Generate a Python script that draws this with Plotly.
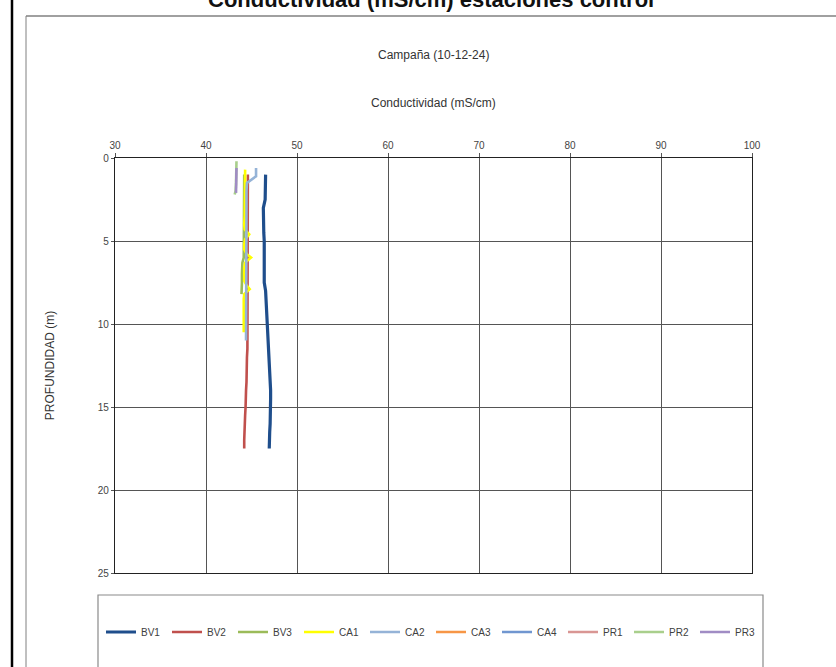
import plotly.graph_objects as go

# conductividad (mS/cm) por profundidad (m), campaña 10-12-24
bv1_prof = [1.0, 1.5, 2.0, 2.5, 3.0, 3.5, 4.0, 4.5, 5.0, 5.5, 6.0, 6.5, 7.0, 7.5, 8.0, 8.5,
            9.0, 9.5, 10.0, 10.5, 11.0, 11.5, 12.0, 12.5, 13.0, 13.5, 14.0, 14.5, 15.0,
            15.5, 16.0, 16.5, 17.0, 17.5]
bv1_cond = [46.55, 46.55, 46.55, 46.5, 46.3, 46.3, 46.3, 46.35, 46.4, 46.4, 46.4, 46.4,
            46.4, 46.4, 46.55, 46.6, 46.6, 46.65, 46.75, 46.8, 46.85, 46.9, 46.95, 47.0,
            47.05, 47.1, 47.1, 47.1, 47.1, 47.1, 47.05, 47.0, 46.95, 46.95]

bv2_prof = [1.0, 2.0, 3.0, 4.0, 5.0, 6.0, 7.0, 8.0, 9.0, 10.0, 10.5, 11.0, 11.5, 12.0,
            12.5, 13.0, 13.5, 14.0, 14.5, 15.0, 15.5, 16.0, 16.5, 17.0, 17.5]
bv2_cond = [44.6, 44.6, 44.6, 44.6, 44.6, 44.6, 44.6, 44.6, 44.6, 44.6, 44.6, 44.6, 44.55,
            44.5, 44.5, 44.5, 44.45, 44.4, 44.4, 44.35, 44.3, 44.25, 44.2, 44.2, 44.2]

bv3_prof = [1.0, 2.0, 3.0, 4.0, 5.0, 6.0, 6.3, 6.6, 7.0, 7.5, 8.0, 8.2]
bv3_cond = [44.2, 44.2, 44.2, 44.2, 44.15, 44.15, 44.0, 43.95, 43.95, 43.95, 43.95, 43.9]

ca1_prof = [0.7, 1.0, 1.5, 2.0, 2.5, 3.0, 3.5, 4.0, 4.3, 4.6, 4.9, 5.2, 5.5, 5.8, 6.0,
            6.3, 6.6, 7.0, 7.4, 7.7, 7.9, 8.2, 8.5, 9.0, 9.5, 10.0, 10.5]
ca1_cond = [44.3, 44.3, 44.3, 44.25, 44.25, 44.25, 44.25, 44.2, 44.25, 44.75, 44.3, 44.2,
            44.2, 44.5, 44.95, 44.3, 44.2, 44.2, 44.2, 44.5, 44.8, 44.2, 44.15, 44.15,
            44.15, 44.15, 44.15]

ca2_prof = [0.6, 1.1, 1.5, 2.0, 3.0, 4.0, 5.0, 6.0, 7.0, 8.0, 9.0, 10.0, 11.0]
ca2_cond = [45.5, 45.5, 44.5, 44.45, 44.45, 44.45, 44.4, 44.4, 44.4, 44.4, 44.4, 44.4, 44.4]

# estaciones sin datos visibles en esta campaña
ca3_prof = [None]
ca3_cond = [None]
ca4_prof = [None]
ca4_cond = [None]
pr1_prof = [None]
pr1_cond = [None]

pr2_prof = [0.2, 0.5, 1.0, 1.5, 2.0, 2.2]
pr2_cond = [43.35, 43.35, 43.3, 43.3, 43.25, 43.15]

pr3_prof = [0.6, 1.0, 1.5, 2.0, 2.1]
pr3_cond = [43.35, 43.35, 43.35, 43.35, 43.3]

series = [
    ("BV1", bv1_cond, bv1_prof, "#1F4E8C", 3.2),
    ("BV2", bv2_cond, bv2_prof, "#C0504D", 2.6),
    ("BV3", bv3_cond, bv3_prof, "#9BBB59", 2.6),
    ("CA1", ca1_cond, ca1_prof, "#FFFF00", 2.6),
    ("CA2", ca2_cond, ca2_prof, "#95B3D7", 2.6),
    ("CA3", ca3_cond, ca3_prof, "#F79646", 2.6),
    ("CA4", ca4_cond, ca4_prof, "#7096D0", 2.6),
    ("PR1", pr1_cond, pr1_prof, "#D99694", 2.6),
    ("PR2", pr2_cond, pr2_prof, "#A9CF8C", 2.6),
    ("PR3", pr3_cond, pr3_prof, "#A08CC4", 2.6),
]

FONT = "Liberation Sans, Arial, sans-serif"

fig = go.Figure()
for nombre, xs, ys, col, w in series:
    fig.add_trace(go.Scatter(x=xs, y=ys, name=nombre, mode="lines",
                             line=dict(color=col, width=w)))

# pixel -> coordenadas paper (area de trazado 115..752 x 158..573)
def px(v):
    return (v - 115) / 637.0

def py(v):
    return (573 - v) / 415.0

fig.update_layout(
    width=836, height=667,
    margin=dict(l=115, r=84, t=158, b=94),
    paper_bgcolor="white", plot_bgcolor="white",
    font=dict(family=FONT, color="#333333", size=10),
    showlegend=True,
    legend=dict(orientation="h", x=px(101), xanchor="left", y=py(632), yanchor="middle",
                entrywidth=21, entrywidthmode="pixels", bgcolor="rgba(0,0,0,0)",
                font=dict(size=10, color="#404040"), itemclick=False),
    xaxis=dict(range=[30, 100], dtick=10, side="top", showgrid=True, gridcolor="#555555",
               gridwidth=1, showline=True, linecolor="#222222", linewidth=1.3, mirror=True,
               ticks="outside", ticklen=4, tickcolor="#555555", zeroline=False,
               tickfont=dict(size=10, color="#444444")),
    yaxis=dict(range=[25, 0], dtick=5, showgrid=True, gridcolor="#555555", gridwidth=1,
               showline=True, linecolor="#222222", linewidth=1.3, mirror=True,
               ticks="outside", ticklen=3, tickcolor="#555555", zeroline=False,
               tickfont=dict(size=10, color="#444444"),
               title=dict(text="PROFUNDIDAD (m)", font=dict(size=12, color="#333333"),
                          standoff=40)),
)

# titulo general, recortado por el borde superior como en el original
fig.add_annotation(text="<b>Conductividad (mS/cm) estaciones control</b>", xref="paper",
                   yref="paper", x=px(431), y=py(-0.5), xanchor="center", yanchor="middle",
                   showarrow=False, font=dict(size=22, color="#111111"))
fig.add_annotation(text="Campaña (10-12-24)", xref="paper", yref="paper",
                   x=px(433), y=py(55), yanchor="middle", showarrow=False,
                   font=dict(size=12))
fig.add_annotation(text="Conductividad (mS/cm)", xref="paper", yref="paper",
                   x=px(433), y=py(103), yanchor="middle", showarrow=False,
                   font=dict(size=12))

# marcos
fig.add_shape(type="line", xref="paper", yref="paper", x0=px(12), x1=px(12),
              y0=py(-20), y1=py(690), line=dict(color="black", width=2.5))
fig.add_shape(type="line", xref="paper", yref="paper", x0=px(26), x1=px(26),
              y0=py(16), y1=py(690), line=dict(color="#808080", width=1))
fig.add_shape(type="line", xref="paper", yref="paper", x0=px(26), x1=px(850),
              y0=py(16), y1=py(16), line=dict(color="#808080", width=1.5))
fig.add_shape(type="rect", xref="paper", yref="paper", x0=px(98), x1=px(763),
              y0=py(595), y1=py(700), line=dict(color="#8a8a8a", width=1.2))

fig.write_html("out.html", config={"displayModeBar": False},
               post_script="document.body.style.margin='0px';"
                           "document.body.style.overflow='hidden';")
